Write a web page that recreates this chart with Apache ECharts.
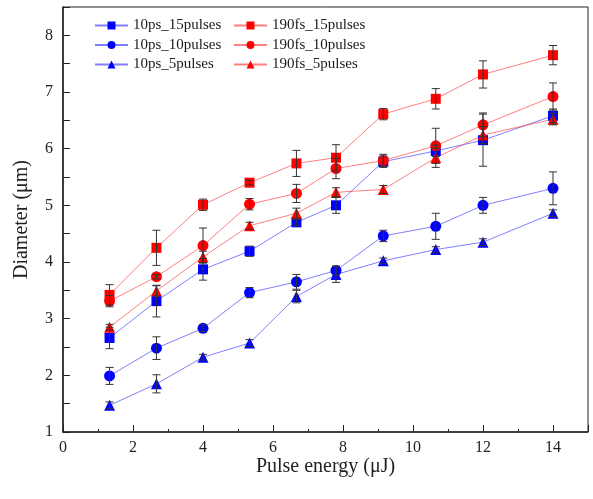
<!DOCTYPE html>
<html><head><meta charset="utf-8">
<script src="https://cdn.jsdelivr.net/npm/echarts@6/dist/echarts.min.js"></script>
<style>html,body{margin:0;padding:0;background:#fff}#c{width:593px;height:499px}</style>
</head><body><div id="c"></div>
<script>
const energy = [1.33, 2.67, 4, 5.33, 6.67, 7.8, 9.15, 10.65, 12, 14];
const ps15 = [2.66, 3.31, 3.87, 4.19, 4.70, 5.00, 5.77, 5.96, 6.15, 6.58];
const ps15Err = [0.19, 0.28, 0.19, 0.09, 0.05, 0.14, 0.10, 0.10, 0.46, 0.12];
const ps10 = [1.99, 2.48, 2.83, 3.46, 3.65, 3.85, 4.46, 4.63, 5.00, 5.30];
const ps10Err = [0.15, 0.20, 0.06, 0.09, 0.13, 0.08, 0.10, 0.23, 0.14, 0.29];
const ps5 = [1.47, 1.85, 2.32, 2.57, 3.39, 3.78, 4.02, 4.22, 4.35, 4.86];
const ps5Err = [0.06, 0.16, 0.05, 0.06, 0.11, 0.14, 0.05, 0.05, 0.06, 0.06];
const fs15 = [3.42, 4.25, 5.01, 5.40, 5.74, 5.84, 6.61, 6.88, 7.31, 7.65];
const fs15Err = [0.18, 0.31, 0.10, 0.04, 0.23, 0.23, 0.10, 0.18, 0.24, 0.17];
const fs10 = [3.31, 3.74, 4.29, 5.02, 5.21, 5.65, 5.79, 6.05, 6.42, 6.92];
const fs10Err = [0.10, 0.04, 0.31, 0.10, 0.16, 0.18, 0.11, 0.31, 0.21, 0.24];
const fs5 = [2.85, 3.49, 4.09, 4.64, 4.86, 5.23, 5.28, 5.84, 6.24, 6.52];
const fs5Err = [0.05, 0.09, 0.10, 0.06, 0.09, 0.08, 0.07, 0.17, 0.15, 0.10];
const xTicks = [0, 2, 4, 6, 8, 10, 12, 14];
const yTicks = [1, 2, 3, 4, 5, 6, 7, 8];

const font = 'Liberation Serif';
const BLUE = '#0000ff', RED = '#ff0000';
const BLUE_LINE = 'rgba(60,60,255,0.65)', RED_LINE = 'rgba(255,60,60,0.65)';

function lineSeries(name, vals, color, lineColor, symbol, size) {
  return {
    name, type: 'line', data: energy.map((x, i) => [x, vals[i]]),
    symbol, symbolSize: size, z: 3,
    itemStyle: { color },
    lineStyle: { color: lineColor, width: 1 },
    emphasis: { disabled: true }
  };
}
function errSeries(vals, errs) {
  return {
    type: 'custom', z: 4, silent: true,
    data: energy.map((x, i) => [x, vals[i], errs[i]]),
    renderItem: function (params, api) {
      const x = api.value(0), y = api.value(1), e = api.value(2);
      const t = api.coord([x, y + e]), b = api.coord([x, y - e]);
      const hw = 4;
      const st = { stroke: '#333', lineWidth: 1 };
      return { type: 'group', children: [
        { type: 'line', shape: { x1: t[0], y1: t[1], x2: b[0], y2: b[1] }, style: st },
        { type: 'line', shape: { x1: t[0] - hw, y1: t[1], x2: t[0] + hw, y2: t[1] }, style: st },
        { type: 'line', shape: { x1: b[0] - hw, y1: b[1], x2: b[0] + hw, y2: b[1] }, style: st }
      ]};
    }
  };
}

const chart = echarts.init(document.getElementById('c'));
const legendBase = {
  orient: 'vertical', top: 18, padding: 0, itemWidth: 33, itemHeight: 10, itemGap: 4.5,
  textStyle: { fontFamily: font, fontSize: 15, color: '#1a1a1a', lineHeight: 15 },
  selectedMode: false
};
chart.setOption({
  animation: false,
  backgroundColor: '#fff',
  grid: { left: 63, top: 7, right: 5, bottom: 67, show: true, borderColor: '#222', borderWidth: 1,
    containLabel: false, outerBoundsMode: 'none' },
  legend: [
    Object.assign({}, legendBase, { left: 94, data: ['10ps_15pulses', '10ps_10pulses', '10ps_5pulses'] }),
    Object.assign({}, legendBase, { left: 233, data: ['190fs_15pulses', '190fs_10pulses', '190fs_5pulses'] })
  ],
  xAxis: {
    type: 'value', min: 0, max: 15, interval: 2,
    name: 'Pulse energy (\u03bcJ)', nameLocation: 'middle', nameGap: 25, nameMoveOverlap: false,
    nameTextStyle: { fontFamily: font, fontSize: 20, color: '#222' },
    axisLine: { lineStyle: { color: '#222', width: 1.5 } },
    axisTick: { inside: true, length: 7, lineStyle: { color: '#222' } },
    minorTick: { show: true, splitNumber: 2, length: 3, lineStyle: { color: '#222' } },
    axisLabel: { fontFamily: font, fontSize: 16, color: '#222', margin: 8,
      formatter: v => xTicks.includes(v) ? String(v) : '' },
    splitLine: { show: false }
  },
  yAxis: {
    type: 'value', min: 1, max: 8.5, interval: 1,
    name: 'Diameter (\u03bcm)', nameLocation: 'middle', nameGap: 31, nameMoveOverlap: false,
    nameTextStyle: { fontFamily: font, fontSize: 20, color: '#222' },
    axisLine: { show: true, lineStyle: { color: '#222', width: 1.5 } },
    axisTick: { inside: true, length: 7, lineStyle: { color: '#222' } },
    minorTick: { show: true, splitNumber: 2, length: 7, lineStyle: { color: '#222' } },
    axisLabel: { fontFamily: font, fontSize: 16, color: '#222', margin: 10,
      formatter: v => yTicks.includes(v) ? String(v) : '' },
    splitLine: { show: false }
  },
  series: [
    lineSeries('10ps_15pulses', ps15, BLUE, BLUE_LINE, 'rect', 10),
    lineSeries('10ps_10pulses', ps10, BLUE, BLUE_LINE, 'circle', 11),
    lineSeries('10ps_5pulses', ps5, BLUE, BLUE_LINE, 'triangle', 11),
    lineSeries('190fs_15pulses', fs15, RED, RED_LINE, 'rect', 10),
    lineSeries('190fs_10pulses', fs10, RED, RED_LINE, 'circle', 11),
    lineSeries('190fs_5pulses', fs5, RED, RED_LINE, 'triangle', 11),
    errSeries(ps15, ps15Err), errSeries(ps10, ps10Err), errSeries(ps5, ps5Err),
    errSeries(fs15, fs15Err), errSeries(fs10, fs10Err), errSeries(fs5, fs5Err)
  ]
});
</script></body></html>
